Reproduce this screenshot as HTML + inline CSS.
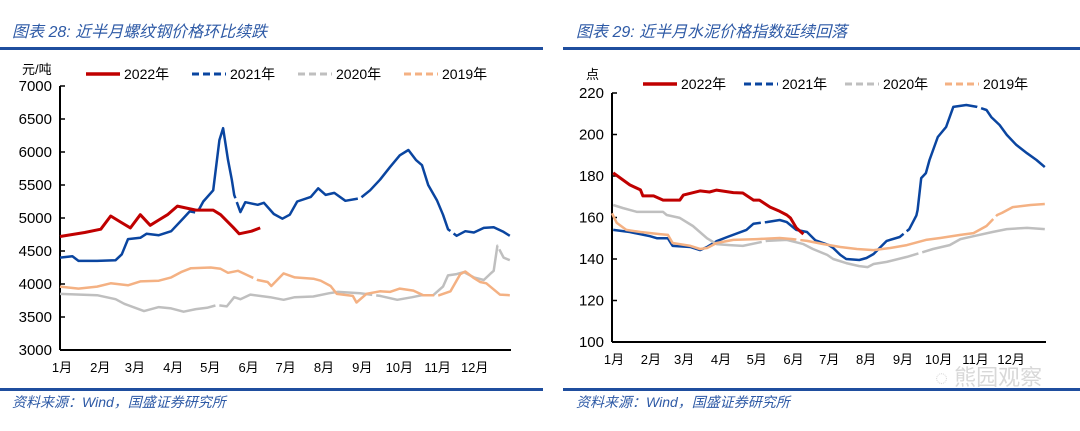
<!DOCTYPE html>
<html><head><meta charset="utf-8"><style>
body{margin:0;background:#fff;width:1080px;height:431px;overflow:hidden;font-family:"Liberation Sans","Noto Sans CJK SC",sans-serif}
svg{display:block}
</style></head><body>
<svg id="s" width="1080" height="431" xmlns="http://www.w3.org/2000/svg">
<g>
<text x="12" y="37" font-size="16" font-style="italic" fill="#2e5aa6">图表 28:  近半月螺纹钢价格环比续跌</text>
<rect x="0" y="47" width="543" height="3" fill="#1f4e9e"/>
<rect x="0" y="388" width="543" height="3" fill="#1f4e9e"/>
<text x="12" y="407" font-size="14" font-style="italic" fill="#2e5aa6">资料来源：Wind，国盛证券研究所</text>
</g>
<g>
<text x="576" y="37" font-size="16" font-style="italic" fill="#2e5aa6">图表 29:  近半月水泥价格指数延续回落</text>
<rect x="563" y="47" width="517" height="3" fill="#1f4e9e"/>
<rect x="563" y="388" width="517" height="3" fill="#1f4e9e"/>
<text x="576" y="407" font-size="14" font-style="italic" fill="#2e5aa6">资料来源：Wind，国盛证券研究所</text>
<text x="935" y="385" font-size="22" fill="#d8d8d8">◌ 熊园观察</text>
</g>
</svg>
<script>
// ---- Left chart data (rebar price, 元/吨) ----
const steelMonths=["1月","2月","3月","4月","5月","6月","7月","8月","9月","10月","11月","12月"];
const steelTicks=[3000,3500,4000,4500,5000,5500,6000,6500,7000];
const steel2022Days=[0,20,33,41,49,57,65,73,80,87,95,110,124,130,140,145,155,162];
const steel2022Vals=[4720,4780,4830,5030,4940,4850,5050,4890,4970,5050,5180,5120,5120,5050,4860,4760,4800,4850];
const steel2021Days=[0,10,15,30,45,50,55,65,70,80,90,100,105,111,116,124,129,132,136,139,141,146,150,160,165,173,180,186,192,203,209,215,222,231,243,251,259,267,275,282,288,293,298,305,310,314,321,328,335,343,351,359,364];
const steel2021Vals=[4400,4420,4350,4350,4360,4450,4680,4700,4760,4740,4800,5000,5100,5080,5250,5420,6180,6360,5880,5580,5350,5090,5240,5200,5230,5060,4990,5050,5250,5320,5450,5350,5380,5260,5300,5420,5580,5770,5950,6030,5880,5800,5500,5270,5050,4830,4730,4800,4780,4850,4860,4790,4730];
const steel2020Days=[0,30,45,52,68,80,90,100,110,119,127,135,141,146,154,170,181,190,205,218,225,243,259,273,285,293,302,310,314,321,327,335,343,348,351,354,359,364];
const steel2020Vals=[3850,3830,3770,3700,3590,3650,3630,3580,3620,3640,3680,3660,3800,3770,3840,3800,3760,3800,3810,3860,3880,3860,3820,3760,3800,3830,3830,3960,4130,4150,4180,4100,4060,4150,4200,4580,4400,4360];
const steel2019Days=[0,15,30,41,55,65,80,90,98,106,122,130,136,144,152,160,168,171,181,190,205,211,219,224,237,240,248,259,267,275,286,294,307,316,324,328,335,340,345,356,364];
const steel2019Vals=[3960,3930,3960,4010,3980,4040,4050,4100,4180,4240,4250,4230,4170,4200,4130,4060,4030,3970,4160,4100,4080,4050,3970,3850,3820,3720,3850,3890,3880,3930,3900,3830,3830,3890,4150,4190,4090,4030,4010,3840,3830];
// ---- Right chart data (cement index, 点) ----
const cementMonths=["1月","2月","3月","4月","5月","6月","7月","8月","9月","10月","11月","12月"];
const cementTicks=[100,120,140,160,180,200,220];
const cement2022Days=[1,15,24,26,35,43,57,60,74,82,88,102,110,119,124,133,141,147,150,155,161];
const cement2022Vals=[181.5,175.7,173.3,170.4,170.4,168.4,168.4,170.8,172.8,172.3,173.2,172,171.8,168.4,168.4,165,163,161.2,159.8,155,152];
const cement2021Days=[1,15,32,38,47,51,66,74,80,88,97,113,119,130,141,147,155,164,171,182,186,192,197,208,214,220,231,242,250,256,257,260,264,267,274,281,287,298,307,315,319,326,332,340,349,357,364];
const cement2021Vals=[154,153,151,150,150,146.3,145.8,144.3,145.8,148.6,150.6,154,157,157.8,158.8,157.8,154,153,149,146.8,145.3,142,140,139.5,140.5,142.4,148.7,150.6,154.4,161,163.6,179,181.4,187.7,198.8,203.6,213.3,214.2,213.3,211.8,208.4,204.6,199.8,195,191,187.7,184.3];
const cement2020Days=[1,9,21,43,46,57,68,80,88,99,110,130,147,161,169,181,186,197,208,215,220,231,248,259,270,284,293,304,320,332,349,364];
const cement2020Vals=[166,164.6,162.7,162.7,161.2,159.8,155.9,150,147.2,146.7,146.3,148.7,149.2,147.2,144.8,142,140,138,136.6,136.1,137.6,138.6,141,142.9,144.8,146.7,149.6,151,153,154.4,155,154.4];
const cement2019Days=[0,4,12,24,40,47,51,66,74,80,88,102,122,141,152,164,178,192,206,220,234,248,264,276,293,304,315,324,328,337,352,364];
const cement2019Vals=[162,157.4,154,153,152,151.6,147.7,146.3,144.8,145.3,147.7,149.2,149.6,150.1,149.6,148.7,147.2,145.8,144.8,144.3,145.3,146.7,149.2,150.1,151.6,152.5,155.9,161.2,162.2,165,166,166.5];

const NS="http://www.w3.org/2000/svg";
const svg=document.getElementById('s');
function mk(tag,attrs,parent){const e=document.createElementNS(NS,tag);for(const k in attrs)e.setAttribute(k,attrs[k]);(parent||svg).appendChild(e);return e;}
const COL={r:"#c00000",b:"#0a45a0",g:"#bfbfbf",o:"#f4b183"};

function drawChart(cfg){
  const g=mk('g',{});
  
  
  const xs=d=>cfg.x0+d/365*(cfg.x1-cfg.x0);
  const ys=v=>cfg.y1-(v-cfg.vmin)/(cfg.vmax-cfg.vmin)*(cfg.y1-cfg.y0);
  const ya=mk('line',{x1:cfg.x0,y1:cfg.y0,x2:cfg.x0,y2:cfg.y1,stroke:"#000","stroke-width":2},g);
  
  
  cfg.ticks.forEach(t=>{
    const tk=mk('line',{x1:cfg.x0,x2:cfg.x0+5,y1:ys(t),y2:ys(t),stroke:"#000","stroke-width":1.5},g);
    
    
    const tl=mk('text',{x:cfg.x0-8,y:ys(t)+5,"font-size":15,"text-anchor":"end",fill:"#000"},g);
    tl.textContent=t;
    
    
  });
  const xa=mk('line',{x1:cfg.x0,y1:cfg.y1,x2:cfg.x1,y2:cfg.y1,stroke:"#000","stroke-width":2},g);
  
  
  const mstart=[0,31,59,90,120,151,181,212,243,273,304,334];
  cfg.months.forEach((m,i)=>{
    const t=mk('text',{x:xs(mstart[i])+2,y:cfg.y1+22,"font-size":13,"text-anchor":"middle",fill:"#000"},g);
    t.textContent=m;
    
    
  });
  const u=mk('text',{x:cfg.unitX,y:cfg.unitY,"font-size":13,fill:"#000"},g);
  u.textContent=cfg.unit;
  
  
  cfg.series.forEach((s)=>{
    let d="";
    s.days.forEach((dd,j)=>{d+=(j?"L":"M")+xs(dd).toFixed(1)+","+ys(s.vals[j]).toFixed(1);});
    const p=mk('path',{d:d,fill:"none",stroke:s.c,"stroke-width":s.w,"stroke-linejoin":"round","stroke-dasharray":s.dash},g);
    
    
    const lx=cfg.legX[s.li];
    const ll=mk('line',{x1:lx,x2:lx+34,y1:cfg.legY-4,y2:cfg.legY-4,stroke:s.c,"stroke-width":s.w+0.5,"stroke-dasharray":s.legDash},g);
    
    
    const lt=mk('text',{x:lx+38,y:cfg.legY+1,"font-size":14,fill:"#000"},g);
    lt.textContent=s.label;
    
    
  });
}
drawChart({name:'steel-chart',x0:60,x1:511,y0:86,y1:350,vmin:3000,vmax:7000,ticks:steelTicks,months:steelMonths,unit:"元/吨",unitX:22,unitY:74,legY:78,legX:[86,192,298,404],
 series:[
  {li:1,label:"2021年",days:steel2021Days,vals:steel2021Vals,c:COL.b,w:2.5,dash:"160 4",legDash:"7 4"},
  {li:2,label:"2020年",days:steel2020Days,vals:steel2020Vals,c:COL.g,w:2.5,dash:"160 4",legDash:"7 4"},
  {li:3,label:"2019年",days:steel2019Days,vals:steel2019Vals,c:COL.o,w:2.5,dash:"200 4",legDash:"7 4"},
  {li:0,label:"2022年",days:steel2022Days,vals:steel2022Vals,c:COL.r,w:3,dash:"none",legDash:"none"}
 ]});
drawChart({name:'cement-chart',x0:612,x1:1046,y0:93,y1:342,vmin:100,vmax:220,ticks:cementTicks,months:cementMonths,unit:"点",unitX:586,unitY:79,legY:88,legX:[643,744,845,945],
 series:[
  {li:1,label:"2021年",days:cement2021Days,vals:cement2021Vals,c:COL.b,w:2.5,dash:"160 4",legDash:"7 4"},
  {li:2,label:"2020年",days:cement2020Days,vals:cement2020Vals,c:COL.g,w:2.5,dash:"160 4",legDash:"7 4"},
  {li:3,label:"2019年",days:cement2019Days,vals:cement2019Vals,c:COL.o,w:2.5,dash:"200 4",legDash:"7 4"},
  {li:0,label:"2022年",days:cement2022Days,vals:cement2022Vals,c:COL.r,w:3,dash:"none",legDash:"none"}
 ]});
</script>
</body></html>
